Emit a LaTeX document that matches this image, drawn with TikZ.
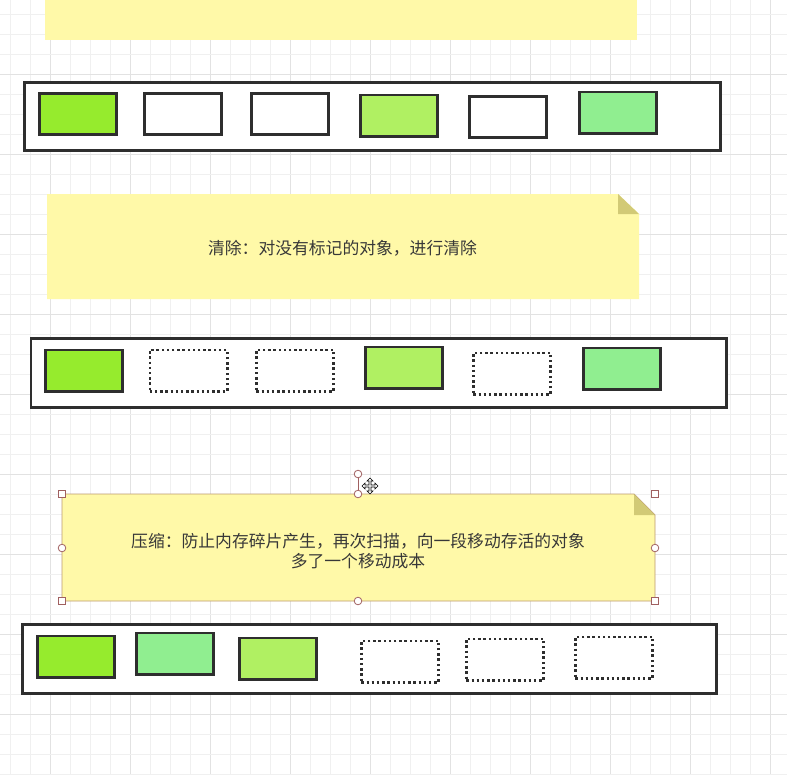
\documentclass[tikz,border=0pt]{standalone}
\usepackage{fontspec}
\newfontfamily\cjk{Noto Sans CJK SC}
\definecolor{gminor}{HTML}{F0F0F0}
\definecolor{gmajor}{HTML}{E2E2E2}
\definecolor{notefill}{HTML}{FFF9A8}
\definecolor{notefold}{HTML}{D2CA76}
\definecolor{gA}{HTML}{96EB2D}
\definecolor{gB}{HTML}{B0F062}
\definecolor{gC}{HTML}{90EE90}
\definecolor{edge}{HTML}{2E2E2E}
\definecolor{selc}{HTML}{A06060}
\definecolor{noteedge}{HTML}{BC9A70}
\definecolor{txt}{HTML}{383838}
\tikzset{
  cell/.style={draw=edge, line width=2.6pt, minimum width=77.4pt, minimum height=41.4pt, inner sep=0pt},
  freecell/.style={draw=edge, line width=2.6pt, dash pattern=on 2.4pt off 2.8pt, minimum width=77.4pt, minimum height=41.4pt, inner sep=0pt, fill=white},
  heap/.style={draw=edge, line width=2.6pt, fill=white, inner sep=0pt},
  notetext/.style={font=\cjk\fontsize{16.8pt}{20pt}\selectfont, text=txt, align=center, inner sep=0pt},
  handle/.style={draw=selc, fill=white, line width=0.8pt},
}
\begin{document}
\begin{tikzpicture}[x=1pt,y=-1pt]
\useasboundingbox (0,0) rectangle (787,774);
\clip (0,0) rectangle (787,774);
\fill[white] (0,0) rectangle (787,774);
% grid
\foreach \i in {0,...,39} {
  \pgfmathtruncatemacro{\m}{mod(\i,4)}
  \ifnum\m=2 \def\gc{gmajor}\else\def\gc{gminor}\fi
  \draw[\gc, line width=1pt] (10+20*\i,0) -- (10+20*\i,774);
}
\foreach \i in {0,...,38} {
  \pgfmathtruncatemacro{\m}{mod(\i,4)}
  \ifnum\m=3 \def\gc{gmajor}\else\def\gc{gminor}\fi
  \draw[\gc, line width=1pt] (0,14+20*\i) -- (787,14+20*\i);
}
% top note (cut off)
\fill[notefill] (45,-40) rectangle (637,40);
% row 1
\node[heap, minimum width=696.4pt, minimum height=68.4pt] (h1) at (372.5,116.5) {};
\node[cell, fill=gA] (a1) at (78,114) {};
\node[cell, fill=white] (a2) at (183,114) {};
\node[cell, fill=white] (a3) at (290,114) {};
\node[cell, fill=gB] (a4) at (399,115.5) {};
\node[cell, fill=white] (a5) at (508,117) {};
\node[cell, fill=gC] (a6) at (618,112.5) {};
% note 2
\fill[notefill] (47,194) -- (618,194) -- (639,214) -- (639,299) -- (47,299) -- cycle;
\fill[notefold] (618,194) -- (639,214) -- (618,214) -- cycle;
\node[notetext] (t2) at (342.5,248) {清除：对没有标记的对象，进行清除};
% row 2
\node[heap, minimum width=695.4pt, minimum height=69.4pt] (h2) at (378.5,373) {};
\node[cell, fill=gA] (b1) at (84,370.5) {};
\node[freecell] (b2) at (188.5,370.5) {};
\node[freecell] (b3) at (295,370.5) {};
\node[cell, fill=gB] (b4) at (404,367.5) {};
\node[freecell] (b5) at (512,373.5) {};
\node[cell, fill=gC] (b6) at (622,368.5) {};
% note 3 (selected)
\filldraw[fill=notefill, draw=noteedge, line width=0.9pt] (62,494) -- (634,494) -- (655,515) -- (655,601) -- (62,601) -- cycle;
\fill[notefold] (634,494) -- (655,515) -- (634,515) -- cycle;
\node[notetext] (t3) at (358,551) {压缩：防止内存碎片产生，再次扫描，向一段移动存活的对象\\多了一个移动成本};
% selection handles
\coordinate (rot) at (358,474);
\coordinate (topmid) at (358,494);
\draw[selc, line width=0.8pt] (rot) -- (topmid);
\foreach \p in {(62,494),(655,494),(62,601),(655,601)} {
  \draw[handle] \p ++(-3.5,-3.5) rectangle ++(7,7);
}
\foreach \p in {(62,548),(655,548),(358,494),(358,601),(358,474)} {
  \draw[handle] \p circle (3.8);
}
% move cursor
\begin{scope}[shift={(370,486)}]
\filldraw[fill=white, draw=black, line width=0.6pt]
 (0,-8) -- (3,-5) -- (1,-5) -- (1,-1) -- (5,-1) -- (5,-3) -- (8,0) -- (5,3) -- (5,1) -- (1,1) -- (1,5) -- (3,5) -- (0,8) -- (-3,5) -- (-1,5) -- (-1,1) -- (-5,1) -- (-5,3) -- (-8,0) -- (-5,-3) -- (-5,-1) -- (-1,-1) -- (-1,-5) -- (-3,-5) -- cycle;
\end{scope}
% row 3
\node[heap, minimum width=694.4pt, minimum height=69.4pt] (h3) at (369.5,659) {};
\node[cell, fill=gA] (c1) at (76,656.5) {};
\node[cell, fill=gC] (c2) at (175,653.5) {};
\node[cell, fill=gB] (c3) at (278,658.5) {};
\node[freecell] (c4) at (400,661.5) {};
\node[freecell] (c5) at (505,659.5) {};
\node[freecell] (c6) at (614,657.5) {};
\end{tikzpicture}
\end{document}
